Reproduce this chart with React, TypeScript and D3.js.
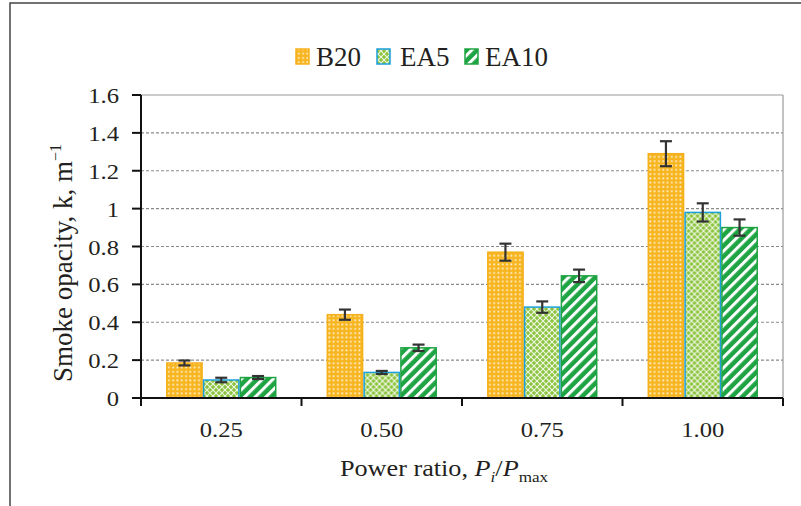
import React from 'react';
import * as d3 from 'd3';

const categories = ['0.25', '0.50', '0.75', '1.00'];
const seriesNames = ['B20', 'EA5', 'EA10'];
const b20 = [0.185, 0.44, 0.77, 1.29];
const b20Err = [0.013, 0.027, 0.045, 0.066];
const ea5 = [0.095, 0.135, 0.48, 0.98];
const ea5Err = [0.012, 0.008, 0.03, 0.048];
const ea10 = [0.108, 0.265, 0.645, 0.9];
const ea10Err = [0.008, 0.017, 0.033, 0.043];
const yTicks = [0, 0.2, 0.4, 0.6, 0.8, 1, 1.2, 1.4, 1.6];

const W = 801, H = 506;
const m = { left: 141, right: 783, top: 95, bottom: 398 };
const font = '"Liberation Serif", "DejaVu Serif", serif';
const ink = '#231f20';

const styles = [
  { fill: 'url(#pB20)', stroke: '#f5b11c' },
  { fill: 'url(#pEA5)', stroke: '#1a9fdc' },
  { fill: 'url(#pEA10)', stroke: '#1fa443' },
];

// text slightly stretched horizontally, like the source figure
const WideText = ({ x, y, sx = 1.12, anchor = 'start', size, children }) => (
  <text transform={`translate(${x},${y}) scale(${sx},1)`} textAnchor={anchor} fontSize={size} fill={ink}>
    {children}
  </text>
);

const App = () => {
  const values = [b20, ea5, ea10];
  const errs = [b20Err, ea5Err, ea10Err];

  const x = d3.scaleBand().domain(categories).range([m.left, m.right]);
  const x1 = d3.scaleBand().domain(seriesNames).range([0, x.bandwidth()]).paddingInner(0).paddingOuter(0.68);
  const y = d3.scaleLinear().domain([0, 1.6]).range([m.bottom, m.top]);

  const bounds = [...categories.map((c) => x(c)), m.right];
  const swatchX = [296, 377, 465];
  const labelX = [316, 400, 485];

  return (
    <svg width={W} height={H} style={{ position: 'absolute', left: 0, top: 0, background: '#fff' }} fontFamily={font}>
      <defs>
        <pattern id="pB20" width="4.3" height="4.3" patternUnits="userSpaceOnUse">
          <rect width="4.3" height="4.3" fill="#f7b520" />
          <rect x="1.2" y="1.2" width="1.7" height="1.7" fill="#fff" opacity="0.85" />
        </pattern>
        <pattern id="pEA5" width="6" height="6" patternUnits="userSpaceOnUse">
          <rect width="6" height="6" fill="#8cc43f" />
          <path d="M0,0 L6,6 M6,0 L0,6" stroke="#fff" strokeWidth="1.1" opacity="0.85" />
        </pattern>
        <pattern id="pEA10" width="7.5" height="7.5" patternUnits="userSpaceOnUse" patternTransform="rotate(45)">
          <rect width="7.5" height="7.5" fill="#1fa443" />
          <rect x="0" y="0" width="3" height="7.5" fill="#fff" />
        </pattern>
      </defs>

      {/* outer frame */}
      <rect x={10} y={3} width={W} height={H} fill="none" stroke="#444" strokeWidth={1.5} />

      {/* gridlines */}
      {yTicks.filter((t) => t > 0 && t < 1.6).map((t) => (
        <line key={t} x1={m.left} x2={m.right} y1={y(t)} y2={y(t)} stroke="#8a8a8a" strokeWidth={1.2} strokeDasharray="3,2" />
      ))}
      <line x1={m.left} x2={m.right} y1={m.top} y2={m.top} stroke="#999" strokeWidth={1.2} />
      <line x1={m.right} x2={m.right} y1={m.top} y2={m.bottom} stroke="#999" strokeWidth={1.2} />

      {/* bars */}
      {categories.map((c, i) => (
        <g key={c} transform={`translate(${x(c)},0)`}>
          {seriesNames.map((s, j) => {
            const v = values[j][i];
            return (
              <rect key={s} x={x1(s) + 0.75} y={y(v)} width={x1.bandwidth() - 1.5} height={y(0) - y(v)}
                fill={styles[j].fill} stroke={styles[j].stroke} strokeWidth={1.5} />
            );
          })}
          {seriesNames.map((s, j) => {
            const v = values[j][i], e = errs[j][i];
            const cx = x1(s) + x1.bandwidth() / 2;
            return (
              <g key={s} stroke="#333" strokeWidth={2.2}>
                <line x1={cx} x2={cx} y1={y(v + e)} y2={y(v - e)} />
                <line x1={cx - 6} x2={cx + 6} y1={y(v + e)} y2={y(v + e)} />
                <line x1={cx - 6} x2={cx + 6} y1={y(v - e)} y2={y(v - e)} />
              </g>
            );
          })}
        </g>
      ))}

      {/* axes */}
      <line x1={m.left} x2={m.left} y1={m.top} y2={m.bottom} stroke="#111" strokeWidth={2} />
      <line x1={m.left - 9} x2={m.right} y1={m.bottom} y2={m.bottom} stroke="#111" strokeWidth={2} />
      {yTicks.map((t) => (
        <g key={t}>
          <line x1={m.left - 9} x2={m.left} y1={y(t)} y2={y(t)} stroke="#111" strokeWidth={2} />
          <WideText x={m.left - 22} y={y(t) + 8} anchor="end" size={22}>{d3.format('')(t)}</WideText>
        </g>
      ))}
      {bounds.map((b, i) => (
        <line key={i} x1={b} x2={b} y1={m.bottom} y2={m.bottom + 8} stroke="#111" strokeWidth={2} />
      ))}
      {categories.map((c) => (
        <WideText key={c} x={x(c) + x.bandwidth() / 2} y={437} anchor="middle" size={22}>{c}</WideText>
      ))}

      {/* axis titles */}
      <text transform={`translate(72,263) rotate(-90)`} textAnchor="middle" fontSize={27} fill={ink}>
        Smoke opacity, k, m<tspan dy="-11" fontSize={16}>−1</tspan>
      </text>
      <WideText x={444} y={476} anchor="middle" size={23} sx={1.14}>
        Power ratio, <tspan fontStyle="italic">P</tspan><tspan fontStyle="italic" fontSize={15} dy="6">i</tspan>
        <tspan dy="-6">/</tspan><tspan fontStyle="italic">P</tspan><tspan fontSize={15} dy="6">max</tspan>
      </WideText>

      {/* legend */}
      {seriesNames.map((s, j) => (
        <g key={s}>
          <rect x={swatchX[j]} y={49} width={13} height={15} fill={styles[j].fill} stroke={styles[j].stroke} strokeWidth={1.5} />
          <text x={labelX[j]} y={66} fontSize={27} fill={ink}>{s}</text>
        </g>
      ))}
    </svg>
  );
};

export default App;
